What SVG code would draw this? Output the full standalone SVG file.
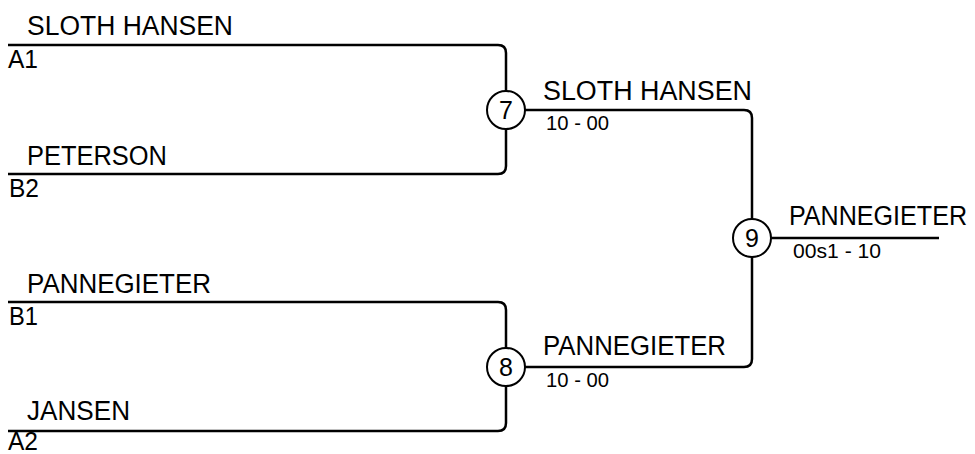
<svg xmlns="http://www.w3.org/2000/svg" width="975" height="454" viewBox="0 0 975 454">
<style>
.ln{fill:none;stroke:#000;stroke-width:2.5}
.c{fill:#fff;stroke:#000;stroke-width:2}
.nm{font-family:"Liberation Sans",Arial,sans-serif;font-size:27px;fill:#000}
.sd{font-family:"Liberation Sans",Arial,sans-serif;font-size:26px;fill:#000}
.sc{font-family:"Liberation Sans",Arial,sans-serif;font-size:20px;fill:#000}
.num{font-family:"Liberation Sans",Arial,sans-serif;font-size:25px;fill:#000;text-anchor:middle}
</style>
<g id="connectors">
<path class="ln" d="M8,45 H498 Q506,45 506,53 V91"/>
<path class="ln" d="M506,129 V166 Q506,174 498,174 H8"/>
<path class="ln" d="M8,302 H498 Q506,302 506,310 V348"/>
<path class="ln" d="M506,386 V423 Q506,431 498,431 H8"/>
<path class="ln" d="M525,110 H744 Q752,110 752,118 V219"/>
<path class="ln" d="M752,257 V359 Q752,367 744,367 H525"/>
<path class="ln" d="M771,238 H939"/>
</g>
<g id="entry-a1">
<text class="nm" x="27" y="35" textLength="206" lengthAdjust="spacingAndGlyphs">SLOTH HANSEN</text>
<text class="sd" x="8" y="68" textLength="30" lengthAdjust="spacingAndGlyphs">A1</text>
</g>
<g id="entry-b2">
<text class="nm" x="27" y="165" textLength="140" lengthAdjust="spacingAndGlyphs">PETERSON</text>
<text class="sd" x="9" y="197" textLength="30" lengthAdjust="spacingAndGlyphs">B2</text>
</g>
<g id="entry-b1">
<text class="nm" x="27" y="293" textLength="184" lengthAdjust="spacingAndGlyphs">PANNEGIETER</text>
<text class="sd" x="9" y="325" textLength="29" lengthAdjust="spacingAndGlyphs">B1</text>
</g>
<g id="entry-a2">
<text class="nm" x="27" y="420" textLength="103" lengthAdjust="spacingAndGlyphs">JANSEN</text>
<text class="sd" x="8" y="450" textLength="30" lengthAdjust="spacingAndGlyphs">A2</text>
</g>
<g id="match-7">
<circle class="c" cx="506" cy="110" r="19"/>
<text class="num" x="506" y="119">7</text>
<text class="nm" x="543" y="100" textLength="209" lengthAdjust="spacingAndGlyphs">SLOTH HANSEN</text>
<text class="sc" x="546" y="130" textLength="63" lengthAdjust="spacingAndGlyphs">10 - 00</text>
</g>
<g id="match-8">
<circle class="c" cx="506" cy="367" r="19"/>
<text class="num" x="506" y="376">8</text>
<text class="nm" x="543" y="355" textLength="183" lengthAdjust="spacingAndGlyphs">PANNEGIETER</text>
<text class="sc" x="546" y="387" textLength="63" lengthAdjust="spacingAndGlyphs">10 - 00</text>
</g>
<g id="match-9">
<circle class="c" cx="752" cy="238" r="19"/>
<text class="num" x="752" y="247">9</text>
<text class="nm" x="789" y="225" textLength="178" lengthAdjust="spacingAndGlyphs">PANNEGIETER</text>
<text class="sc" x="793" y="258" textLength="88" lengthAdjust="spacingAndGlyphs">00s1 - 10</text>
</g>
</svg>
